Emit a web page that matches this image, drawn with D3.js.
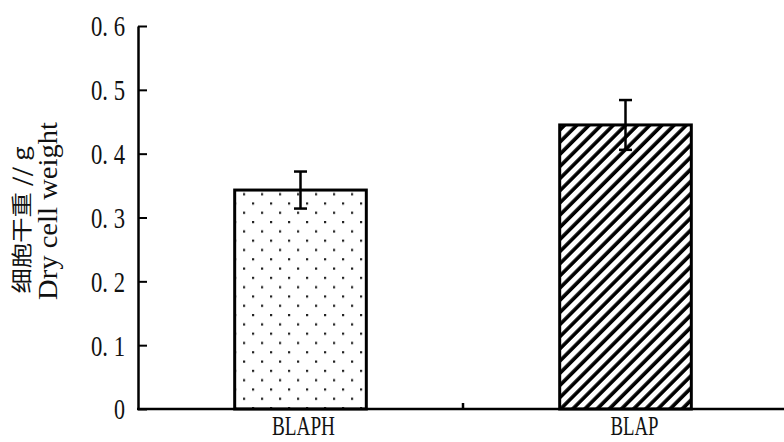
<!DOCTYPE html>
<html>
<head>
<meta charset="utf-8">
<script src="https://cdn.jsdelivr.net/npm/d3@7"></script>
<style>
  body { margin: 0; background: #fff; }
  text { font-family: "Liberation Serif", "Times New Roman", serif; fill: #111; }
</style>
</head>
<body>
<div id="chart"></div>
<script>
// data
const groups = ["BLAPH", "BLAP"];
const weights = [0.343, 0.445];
const errors = [0.029, 0.039];
const yTicks = [0, 0.1, 0.2, 0.3, 0.4, 0.5, 0.6];
const fills = ["url(#dots)", "url(#hatch)"];

const canvWidth = 784, canvHeight = 442;
const margin = {top: 26, right: -4, bottom: 33, left: 138};
const width = canvWidth - margin.left - margin.right;
const height = canvHeight - margin.top - margin.bottom;

const svg = d3.select("#chart")
    .append("svg")
    .attr("width", canvWidth)
    .attr("height", canvHeight);

// fill patterns
const defs = svg.append("defs");
const dots = defs.append("pattern")
    .attr("id", "dots")
    .attr("patternUnits", "userSpaceOnUse")
    .attr("width", 18)
    .attr("height", 18.6)
    .attr("x", 240)
    .attr("y", 195);
dots.append("rect").attr("x", 0).attr("y", 0).attr("width", 2.2).attr("height", 2.2).attr("fill", "#222");
dots.append("rect").attr("x", 9).attr("y", 9.3).attr("width", 2.2).attr("height", 2.2).attr("fill", "#222");

const hatch = defs.append("pattern")
    .attr("id", "hatch")
    .attr("patternUnits", "userSpaceOnUse")
    .attr("width", 8.6)
    .attr("height", 8.6)
    .attr("patternTransform", "rotate(45)");
hatch.append("line")
    .attr("x1", 2).attr("y1", 0).attr("x2", 2).attr("y2", 8.6)
    .attr("stroke", "#000").attr("stroke-width", 3.6);

const g = svg.append("g")
    .attr("transform", `translate(${margin.left},${margin.top})`);

const x = d3.scaleBand()
    .domain(groups)
    .range([0, width])
    .padding(0);

const y = d3.scaleLinear()
    .domain([0, 0.6])
    .range([height, 0]);

// bars
const barW = x.bandwidth() * 0.405;
g.selectAll(".bar")
    .data(groups)
    .join("rect")
    .attr("class", "bar")
    .attr("x", d => x(d) + x.bandwidth() / 2 - barW / 2)
    .attr("y", (d, i) => y(weights[i]))
    .attr("width", barW)
    .attr("height", (d, i) => height - y(weights[i]))
    .attr("fill", (d, i) => fills[i])
    .attr("stroke", "#000")
    .attr("stroke-width", 3);

// error bars
const err = g.selectAll(".err")
    .data(groups)
    .join("g")
    .attr("class", "err")
    .attr("stroke", "#000")
    .attr("stroke-width", 2.5);
err.append("line")
    .attr("x1", d => x(d) + x.bandwidth() / 2)
    .attr("x2", d => x(d) + x.bandwidth() / 2)
    .attr("y1", (d, i) => y(weights[i] - errors[i]))
    .attr("y2", (d, i) => y(weights[i] + errors[i]));
err.selectAll(".cap")
    .data((d, i) => [weights[i] - errors[i], weights[i] + errors[i]].map(v => ({g: d, v: v})))
    .join("line")
    .attr("class", "cap")
    .attr("x1", d => x(d.g) + x.bandwidth() / 2 - 6.5)
    .attr("x2", d => x(d.g) + x.bandwidth() / 2 + 6.5)
    .attr("y1", d => y(d.v))
    .attr("y2", d => y(d.v));

// Y axis
const fmt = d => d === 0 ? "0" : d3.format(".1f")(d).replace(".", ". ");
const yAxis = g.append("g")
    .attr("class", "yaxis")
    .call(d3.axisLeft(y).tickValues(yTicks).tickFormat(fmt).tickSizeInner(-9).tickSizeOuter(0).tickPadding(13));
yAxis.select(".domain").attr("stroke", "#000").attr("stroke-width", 2.5);
yAxis.selectAll(".tick line").attr("stroke", "#000").attr("stroke-width", 2);
yAxis.selectAll(".tick text")
    .attr("font-family", "Liberation Serif, serif")
    .style("font-size", "30px")
    .attr("fill", "#111")
    .attr("dy", "0.33em")
    .attr("lengthAdjust", "spacingAndGlyphs")
    .attr("textLength", d => d === 0 ? 11 : 34);

// X axis: line across, single tick between groups
const xAxis = g.append("g")
    .attr("class", "xaxis")
    .attr("transform", `translate(0,${height})`);
xAxis.append("line")
    .attr("x1", -1).attr("x2", width)
    .attr("y1", 0).attr("y2", 0)
    .attr("stroke", "#000").attr("stroke-width", 2.5);
xAxis.append("line")
    .attr("x1", x(groups[1])).attr("x2", x(groups[1]))
    .attr("y1", 0).attr("y2", -6)
    .attr("stroke", "#000").attr("stroke-width", 2.5);
xAxis.selectAll(".xlab")
    .data(groups)
    .join("text")
    .attr("class", "xlab")
    .attr("x", (d, i) => x(d) + x.bandwidth() / 2 + (i === 0 ? 3 : 9))
    .attr("y", 26)
    .attr("text-anchor", "middle")
    .style("font-size", "27px")
    .attr("lengthAdjust", "spacingAndGlyphs")
    .attr("textLength", d => d.length === 5 ? 63 : 48)
    .text(d => d);

// Y axis title, two lines
svg.append("text")
    .attr("transform", "translate(29,220) rotate(-90)")
    .attr("text-anchor", "middle")
    .style("font-family", "'Noto Sans CJK SC', sans-serif")
    .style("font-size", "21px")
    .attr("textLength", 147)
    .attr("lengthAdjust", "spacingAndGlyphs")
    .text("细胞干重 // g");

svg.append("text")
    .attr("transform", "translate(57,211) rotate(-90)")
    .attr("text-anchor", "middle")
    .style("font-size", "27px")
    .attr("textLength", 178)
    .attr("lengthAdjust", "spacingAndGlyphs")
    .text("Dry cell weight");
</script>
</body>
</html>
